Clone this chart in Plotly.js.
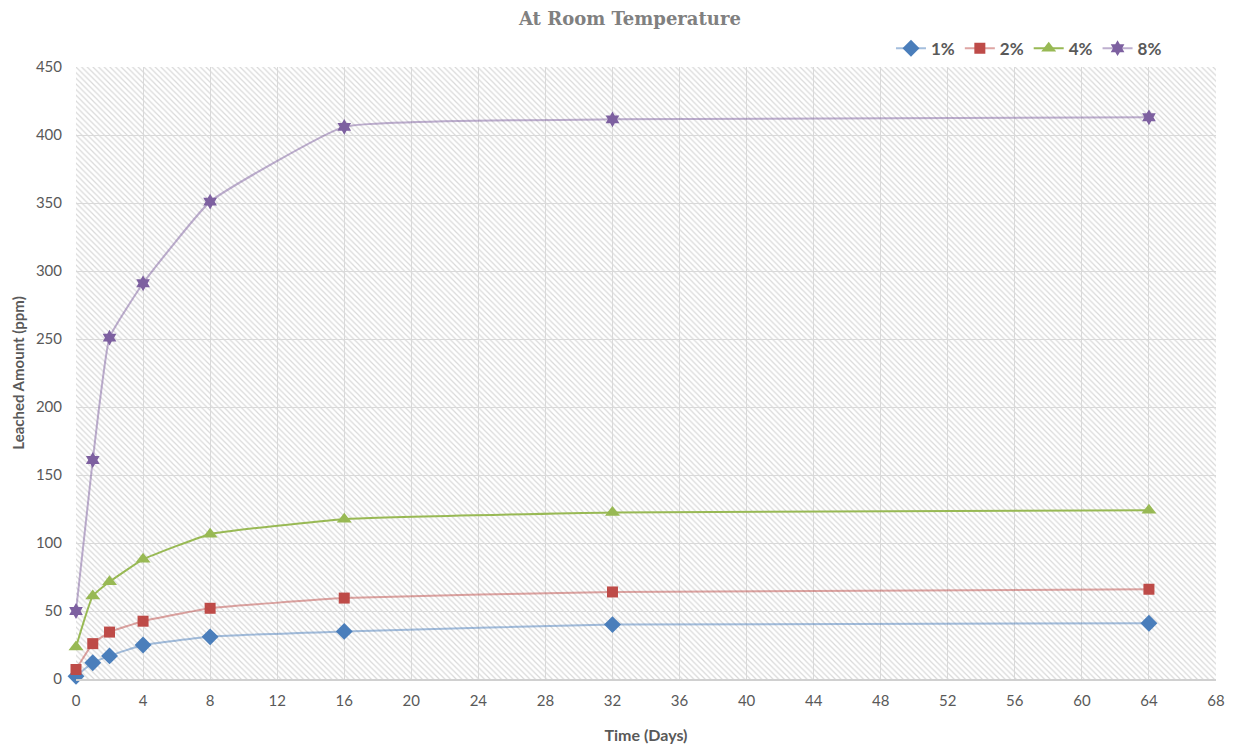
<!DOCTYPE html>
<html>
<head>
<meta charset="utf-8">
<script src="https://cdn.plot.ly/plotly-3.0.1.min.js"></script>
<style>body{margin:0;background:#fff}#chart{width:1240px;height:745px}</style>
</head>
<body>
<div id="chart"></div>
<script>
const days = [0, 1, 2, 4, 8, 16, 32, 64];
const series1 = [2, 12, 17, 25, 31, 35, 40, 41];
const series2 = [7, 26, 34.5, 42.5, 52, 59.5, 64, 66];
const series4 = [23.5, 61, 71.5, 88, 106.5, 117.5, 122.5, 124];
const series8 = [50, 161, 251, 291, 351, 406, 411.5, 413];
const seriesNames = ['1%', '2%', '4%', '8%'];
const xTicks = [0, 4, 8, 12, 16, 20, 24, 28, 32, 36, 40, 44, 48, 52, 56, 60, 64, 68];
const xRange = [0, 68];
const yRange = [0, 450];

const styles = [
  {line: 'rgba(74,126,187,0.5)', marker: '#4a7ebb', symbol: 'diamond', size: 13},
  {line: 'rgba(190,75,72,0.5)', marker: '#be4b48', symbol: 'square', size: 11},
  {line: '#98b954', marker: '#98b954', symbol: 'triangle-up', size: 13},
  {line: 'rgba(125,96,160,0.5)', marker: '#7d60a0', symbol: 'hexagram', size: 12}
];
const allSeries = [series1, series2, series4, series8];

const bg = {
  type: 'bar',
  x: [(xRange[0] + xRange[1]) / 2],
  y: [yRange[1] - yRange[0]],
  base: [yRange[0]],
  width: [xRange[1] - xRange[0]],
  marker: {color: 'rgba(0,0,0,0)', line: {width: 0},
    pattern: {shape: '\\', fgcolor: '#d9d9d9', bgcolor: 'rgba(0,0,0,0)', size: 4, solidity: 0.3}},
  hoverinfo: 'skip', showlegend: false
};

const traces = [bg].concat(allSeries.map((s, i) => ({
  type: 'scatter', mode: 'lines+markers', name: seriesNames[i],
  x: days, y: s, cliponaxis: false,
  line: {color: styles[i].line, width: 2, shape: 'spline', smoothing: 0.35},
  marker: {color: styles[i].marker, symbol: styles[i].symbol, size: styles[i].size}
})));

const tickFont = {family: 'Lato, "Liberation Sans", sans-serif', size: 15, color: '#595959'};
const layout = {
  width: 1240, height: 745,
  margin: {l: 76, r: 24, t: 67, b: 66},
  paper_bgcolor: '#ffffff', plot_bgcolor: '#ffffff',
  bargap: 0,
  title: {text: 'At Room Temperature', x: 0.508, xanchor: 'center', y: 0.975, yanchor: 'middle',
    font: {family: '"DejaVu Serif", serif', size: 18, color: '#808080', weight: 'bold'}},
  xaxis: {range: xRange, tickvals: xTicks, ticktext: xTicks.map(String),
    showgrid: true, gridcolor: '#d9d9d9', gridwidth: 1, zeroline: false,
    showline: true, linecolor: '#d0d0d0', linewidth: 2,
    ticks: 'outside', ticklen: 7, tickcolor: 'rgba(0,0,0,0)', tickfont: tickFont,
    title: {text: 'Time (Days)', standoff: 22, font: {family: 'Lato, sans-serif', size: 16, color: '#595959', weight: 'bold'}}},
  yaxis: {range: yRange, dtick: 50,
    showgrid: true, gridcolor: '#d9d9d9', gridwidth: 1, zeroline: false,
    showline: false, ticks: 'outside', ticklen: 10, tickcolor: 'rgba(0,0,0,0)', tickfont: tickFont,
    title: {text: 'Leached Amount (ppm)', standoff: 7, font: {family: 'Lato, sans-serif', size: 15, color: '#595959', weight: 'bold'}}},
  legend: {orientation: 'h', x: 0.957, xanchor: 'right', y: 1.03, yanchor: 'middle',
    font: {family: 'Lato, sans-serif', size: 17, color: '#595959', weight: 'bold'},
    itemwidth: 30, tracegroupgap: 0, bgcolor: 'rgba(0,0,0,0)'},
  showlegend: true
};

Plotly.newPlot('chart', traces, layout, {displayModeBar: false, staticPlot: true});
</script>
</body>
</html>
